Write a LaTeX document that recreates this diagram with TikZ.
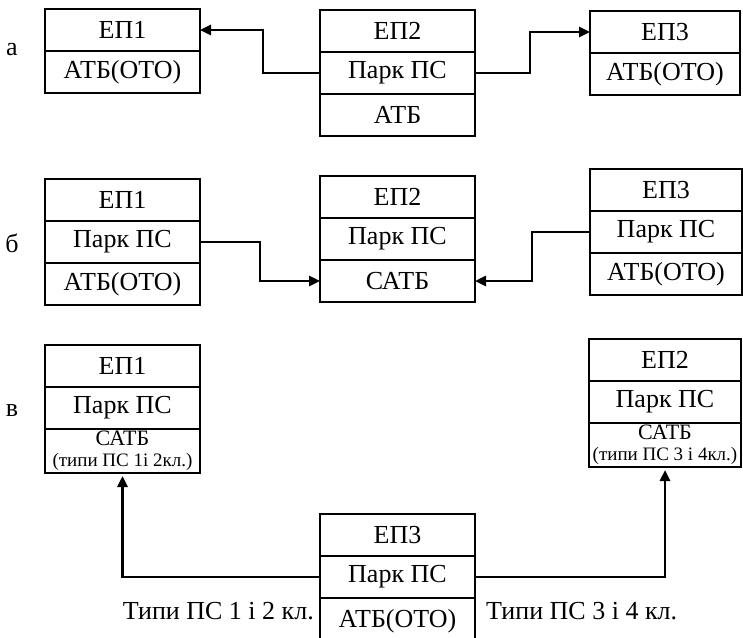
\documentclass[tikz,border=0pt]{standalone}
\usepackage{fontspec}
\setmainfont{Liberation Serif}
\usetikzlibrary{positioning,arrows.meta,calc}

\begin{document}
\begin{tikzpicture}[x=1pt, y=-1pt,
	cell/.style={draw, line width=1.9pt, outer sep=0pt, inner sep=0pt, minimum width=155pt, minimum height=42pt, font=\fontsize{26}{28}\selectfont},
	satb/.style={cell, minimum height=44pt, align=center, font=\fontsize{19}{21}\selectfont},
	flow/.style={line width=2.6pt, -{Triangle[length=11pt, width=10pt]}},
	lbl/.style={inner sep=0pt, font=\fontsize{26}{28}\selectfont}]
	\useasboundingbox (0,0) rectangle (743,637);
	
	% a
	\node[lbl] (la) at (12,50) {а};
	\node[cell, anchor=north west] (a1t) at (45,9) {ЕП1};
	\node[cell, below=0pt of a1t] (a1b) {АТБ(ОТО)};
	\node[cell, anchor=north west] (a2t) at (320,10) {ЕП2};
	\node[cell, below=0pt of a2t] (a2p) {Парк ПС};
	\node[cell, below=0pt of a2p] (a2b) {АТБ};
	\node[cell, anchor=north west, minimum width=150pt] (a3t) at (590,11) {ЕП3};
	\node[cell, below=0pt of a3t, minimum width=150pt] (a3b) {АТБ(ОТО)};
	\draw[flow] (a2p.west) -- ++(-57,0) |- (a1t.east);
	\draw[flow] (a2p.east) -- ++(55,0) |- (a3t.west);
	
	% b
	\node[lbl] (lb) at (12,243) {б};
	\node[cell, anchor=north west] (b1t) at (45,179) {ЕП1};
	\node[cell, below=0pt of b1t] (b1p) {Парк ПС};
	\node[cell, below=0pt of b1p] (b1b) {АТБ(ОТО)};
	\node[cell, anchor=north west] (b2t) at (320,176) {ЕП2};
	\node[cell, below=0pt of b2t] (b2p) {Парк ПС};
	\node[cell, below=0pt of b2p] (b2s) {САТБ};
	\node[cell, anchor=north west, minimum width=152pt] (b3t) at (590,169) {ЕП3};
	\node[cell, below=0pt of b3t, minimum width=152pt] (b3p) {Парк ПС};
	\node[cell, below=0pt of b3p, minimum width=152pt] (b3b) {АТБ(ОТО)};
	\draw[flow] (b1p.east) -- ++(60,0) |- (b2s.west);
	\draw[flow] (b3p.west) -- ++(-58,0) |- (b2s.east);
	
	% c
	\node[lbl] (lc) at (12,411) {в};
	\node[cell, anchor=north west] (c1t) at (45,345) {ЕП1};
	\node[cell, below=0pt of c1t] (c1p) {Парк ПС};
	\node[satb, below=0pt of c1p] (c1s) {{\fontsize{22}{22}\selectfont САТБ}\\(типи ПС 1і 2кл.)};
	\node[cell, anchor=north west, minimum width=152pt] (c2t) at (589,339) {ЕП2};
	\node[cell, below=0pt of c2t, minimum width=152pt] (c2p) {Парк ПС};
	\node[satb, below=0pt of c2p, minimum width=152pt] (c2s) {{\fontsize{22}{22}\selectfont САТБ}\\(типи ПС 3 і 4кл.)};
	\node[cell, anchor=north west] (c3t) at (320,514) {ЕП3};
	\node[cell, below=0pt of c3t] (c3p) {Парк ПС};
	\node[cell, below=0pt of c3p, minimum height=46pt] (c3s) {АТБ(ОТО)};
	\draw[flow, shorten >=3pt] (c3p.west) -| (c1s.south);
	\draw[flow, shorten >=3pt] (c3p.east) -| (c2s.south);
	\node[lbl, anchor=east] (t12) at ($(c3s.west)+(-6,-10)$) {Типи ПС 1 і 2 кл.};
	\node[lbl, anchor=west] (t34) at ($(c3s.east)+(11,-10)$) {Типи ПС 3 і 4 кл.};
\end{tikzpicture}
\end{document}
